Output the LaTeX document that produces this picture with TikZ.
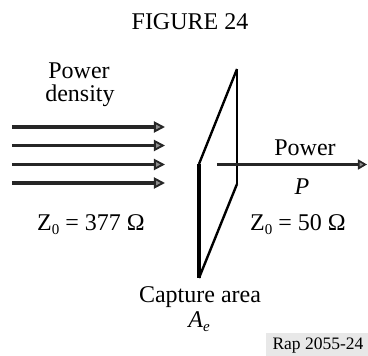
\documentclass[tikz,border=0pt]{standalone}
\usepackage{fontspec}
\setmainfont{Liberation Serif}
\usetikzlibrary{arrows.meta}
\newcommand\lowsub[1]{\raisebox{-0.45ex}{\fontsize{15}{17}\selectfont #1}}
\begin{document}
\begin{tikzpicture}[x=1pt,y=-1pt,
  lbl/.style={inner sep=0pt,anchor=base,font=\fontsize{24}{28}\selectfont},
  beam/.style={line width=3.4pt,draw=black!85,-{Triangle[open,length=11pt,width=11pt,line width=1.9pt,fill=black!45]}},
  outbeam/.style={line width=3pt,draw=black!85,-{Triangle[open,length=9pt,width=10pt,line width=1.7pt,fill=black!45]}}]
\useasboundingbox (0,0) rectangle (368,356);
% parallelogram
\coordinate (t) at (237,69);
\coordinate (rb) at (237,184);
\coordinate (lt) at (199,164);
\coordinate (lb) at (199,278);
\draw[line width=2.4pt,line join=round] (lt) -- (t);
\draw[line width=1.6pt] (t) -- (rb);
\draw[line width=2.4pt,line join=round] (rb) -- (lb);
\draw[line width=3.5pt] (lt) -- (lb);
% incoming arrows
\foreach \y [count=\i] in {127,145.5,164.5,183}{
  \coordinate (s\i) at (12,\y);
  \coordinate (e\i) at (165,\y);
  \draw[beam] (s\i) -- (e\i);
}
% outgoing arrow
\coordinate (os) at (217,164.5);
\coordinate (oe) at (367,164.5);
\draw[outbeam] (os) -- (oe);
% texts
\node[lbl] (title) at (190,30) {FIGURE 24};
\node[lbl] (pd1) at (79,78) {Power};
\node[lbl] (pd2) at (80,102) {density};
\node[lbl] (pw) at (305,155) {Power};
\node[lbl] (pp) at (302,195) {\textit{P}};
\node[lbl] (z1) at (91,230) {Z\lowsub{0} = 377 Ω};
\node[lbl] (z2) at (298,230) {Z\lowsub{0} = 50 Ω};
\node[lbl] (ca) at (200,302) {Capture area};
\node[lbl] (ae) at (199,327) {\textit{A}\lowsub{\textit{e}}};
\fill[black!9] (266,333) rectangle (368,356);
\node[lbl,font=\fontsize{17.5}{20}\selectfont] (rap) at (318,350) {Rap 2055-24};
\end{tikzpicture}
\end{document}
